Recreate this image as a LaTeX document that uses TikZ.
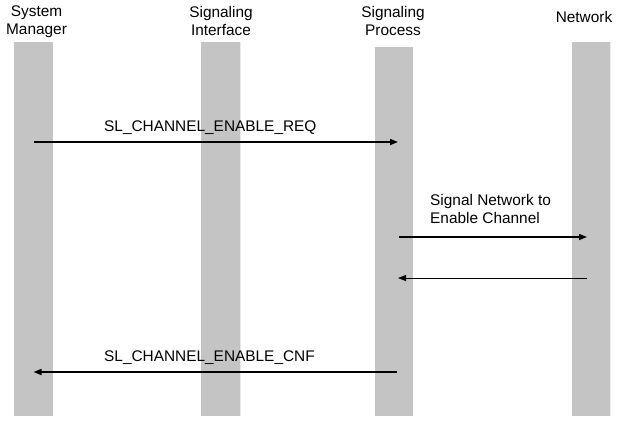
\documentclass[tikz,border=0pt]{standalone}
\usepackage{fontspec}
\setmainfont{Liberation Sans}
\usetikzlibrary{arrows.meta, patterns.meta}

\begin{document}
\begin{tikzpicture}[
  x=1pt, y=-1pt,
  every node/.style={inner sep=0pt, font=\fontsize{15.4}{18}\selectfont},
  lifeline/.style={minimum width=39pt, anchor=north, pattern={Dots[distance=2pt, radius=0.72pt]}},
  title/.style={align=center, anchor=north},
  msg/.style={-{Triangle[length=8pt, width=6pt]}, line width=1.6pt},
  reply/.style={-{Triangle[length=8pt, width=6pt]}, line width=0.8pt}
]
\useasboundingbox (0,0) rectangle (617,423);

% Lifelines
\node[lifeline, minimum height=373pt] (mgr) at (33.5,42) {};
\node[lifeline, minimum height=373pt] (intf) at (220.5,42) {};
\node[lifeline, minimum height=368pt, minimum width=38pt] (proc) at (394,47) {};
\node[lifeline, minimum height=373pt, minimum width=38pt] (net) at (591,42) {};

% Titles
\node[title] (mgr-t) at (36.5,6) {System\\Manager};
\node[title] (intf-t) at (221,6) {Signaling\\Interface};
\node[title] (proc-t) at (393,6) {Signaling\\Process};
\node[title] (net-t) at (584,11) {Network};

% Messages
\draw[msg] (mgr.center |- 0,142) -- ([xshift=4pt]proc.center |- 0,142);
\node[anchor=base west] (req) at (104,131) {SL\_CHANNEL\_ENABLE\_REQ};

\draw[msg] ([xshift=5pt]proc.center |- 0,237) -- ([xshift=-4pt]net.center |- 0,237);
\node[anchor=north west, align=left] (sig) at (430,194) {Signal Network to\\Enable Channel};

\draw[reply] ([xshift=-4pt]net.center |- 0,278) -- ([xshift=4pt]proc.center |- 0,278);

\draw[msg] ([xshift=3pt]proc.center |- 0,372) -- (mgr.center |- 0,372);
\node[anchor=base west] (cnf) at (104,361) {SL\_CHANNEL\_ENABLE\_CNF};

\end{tikzpicture}
\end{document}
